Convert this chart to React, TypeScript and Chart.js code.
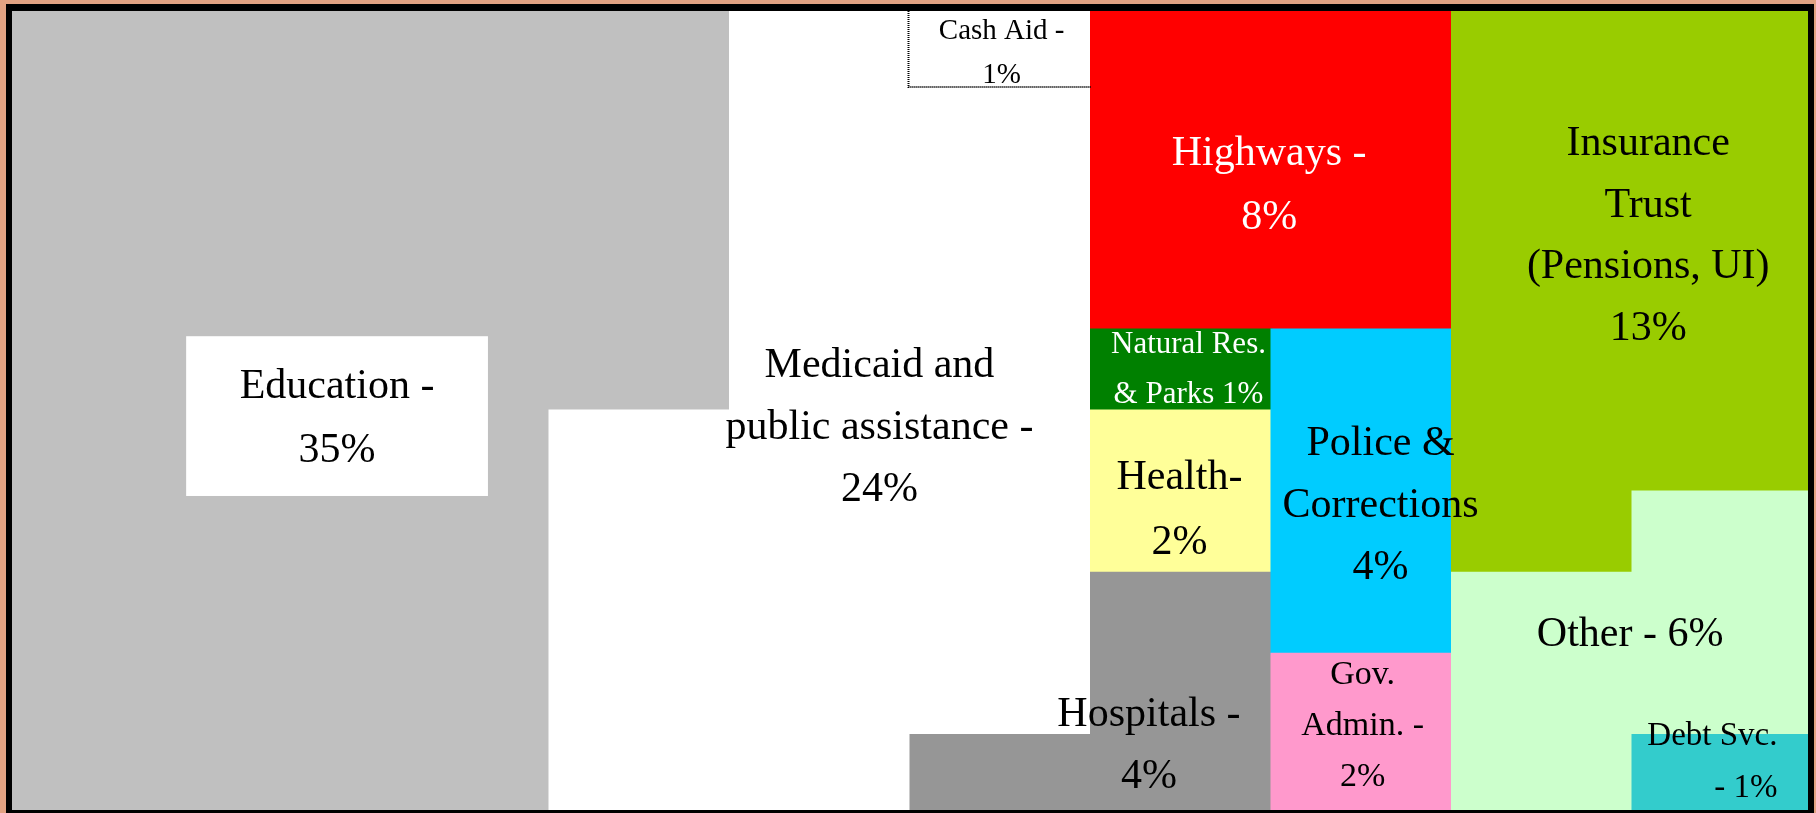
import React, { useEffect, useRef } from "react";
import { Chart, registerables } from "chart.js";

Chart.register(...registerables);

// Grid columns (10 x 10 grid, each cell = 1% of spending)
const columns = ["c1", "c2", "c3", "c4", "c5", "c6", "c7", "c8", "c9", "c10"];

// Cells per column for each category (stacked bottom -> top)
const debtCells = [null, null, null, null, null, null, null, null, null, 1];
const otherCells = [null, null, null, null, null, null, null, null, 3, 3];
const insuranceCells = [null, null, null, null, null, null, null, null, 7, 6];
const govAdminCells = [null, null, null, null, null, null, null, 2, null, null];
const policeCells = [null, null, null, null, null, null, null, 4, null, null];
const hospitalCells = [null, null, null, null, null, 1, 3, null, null, null];
const healthCells = [null, null, null, null, null, null, 2, null, null, null];
const naturalResCells = [null, null, null, null, null, null, 1, null, null, null];
const highwayCells = [null, null, null, null, null, null, 4, 4, null, null];
const medicaidCells = [null, null, null, 5, 10, 8, null, null, null, null];
const educationCells = [10, 10, 10, 5, null, null, null, null, null, null];
const cashAidCells = [null, null, null, null, null, 1, null, null, null, null];

const seriesNames = [
  "Debt Svc.",
  "Other",
  "Insurance Trust",
  "Gov. Admin.",
  "Police & Corrections",
  "Hospitals",
  "Health",
  "Natural Res. & Parks",
  "Highways",
  "Medicaid and public assistance",
  "Education",
  "Cash Aid",
];
const seriesValues = [
  debtCells,
  otherCells,
  insuranceCells,
  govAdminCells,
  policeCells,
  hospitalCells,
  healthCells,
  naturalResCells,
  highwayCells,
  medicaidCells,
  educationCells,
  cashAidCells,
];
const seriesColors = [
  "#33CCCC",
  "#CCFFCC",
  "#99CC00",
  "#FF99CC",
  "#00CCFF",
  "#969696",
  "#FFFF99",
  "#008000",
  "#FF0000",
  "#FFFFFF",
  "#C0C0C0",
  "#FFFFFF",
];

// Label texts
const labelTexts = [
  ["Education -", "35%"],
  ["Medicaid and", "public assistance -", "24%"],
  ["Cash Aid -", "1%"],
  ["Highways -", "8%"],
  ["Insurance", "Trust", "(Pensions, UI)", "13%"],
  ["Natural Res.", "& Parks 1%"],
  ["Health-", "2%"],
  ["Police &", "Corrections", "4%"],
  ["Other - 6%"],
  ["Gov.", "Admin. -", "2%"],
  ["Hospitals -", "4%"],
  ["Debt Svc.", "- 1%"],
];

// Label placement (grid units: u from left, v from bottom), font size, line height, colour, alignment
const labelLayout = [
  { u: 1.823, v: 4.941, size: 42, lh: 64, color: "#000", align: "center" },
  { u: 4.828, v: 4.822, size: 42, lh: 62, color: "#000", align: "center" },
  { u: 5.505, v: 9.443, size: 29, lh: 44, color: "#000", align: "center" },
  { u: 6.987, v: 7.817, size: 42, lh: 64, color: "#FFF", align: "center" },
  { u: 9.087, v: 7.188, size: 42, lh: 61.5, color: "#000", align: "center" },
  { u: 6.54, v: 5.541, size: 31, lh: 50, color: "#FFF", align: "center" },
  { u: 6.49, v: 3.808, size: 42, lh: 65, color: "#000", align: "center" },
  { u: 7.604, v: 3.867, size: 42, lh: 62, color: "#000", align: "center" },
  { u: 8.987, v: 2.281, size: 42, lh: 62, color: "#000", align: "center" },
  { u: 7.505, v: 1.148, size: 34, lh: 51, color: "#000", align: "center" },
  { u: 6.321, v: 0.901, size: 42, lh: 62, color: "#000", align: "center" },
  { u: 9.803, v: 0.704, size: 33, lh: 52, color: "#000", align: "right" },
];

// White box behind the Education label (grid units)
const eduBox = { u0: 0.987, u1: 2.659, v0: 3.946, v1: 5.916 };

const FONT = '"Liberation Serif", "Times New Roman", serif';

const labelPlugin = {
  id: "cellLabels",
  afterDatasetsDraw(chart: any) {
    const { ctx } = chart;
    const xs = chart.scales.x;
    const ys = chart.scales.y;
    const px = (u: number) => xs.getPixelForValue(u - 0.5);
    const py = (v: number) => ys.getPixelForValue(v);

    ctx.save();
    // Cash Aid dotted outline
    const cashIdx = seriesNames.indexOf("Cash Aid");
    const meta = chart.getDatasetMeta(cashIdx);
    meta.data.forEach((bar: any, i: number) => {
      if (cashAidCells[i] == null) return;
      const p = bar.getProps(["x", "y", "base", "width"], true);
      const l = p.x - p.width / 2;
      const r = p.x + p.width / 2;
      ctx.strokeStyle = "#000";
      ctx.lineWidth = 2;
      ctx.setLineDash([1, 1]);
      ctx.beginPath();
      ctx.moveTo(l - 2, p.y);
      ctx.lineTo(l - 2, p.base + 1);
      ctx.lineTo(r, p.base + 1);
      ctx.stroke();
      ctx.setLineDash([]);
    });

    // Education white box
    ctx.fillStyle = "#FFFFFF";
    const bx0 = px(eduBox.u0);
    const bx1 = px(eduBox.u1);
    const by0 = py(eduBox.v1);
    const by1 = py(eduBox.v0);
    ctx.fillRect(bx0, by0, bx1 - bx0, by1 - by0);

    // Labels
    labelTexts.forEach((lines, i) => {
      const L = labelLayout[i];
      ctx.font = `${L.size}px ${FONT}`;
      ctx.fillStyle = L.color;
      ctx.textAlign = L.align;
      ctx.textBaseline = "middle";
      const cx = px(L.u);
      const cy = py(L.v) + 3.5;
      const n = lines.length;
      lines.forEach((t, k) => {
        const y = cy + (k - (n - 1) / 2) * L.lh;
        ctx.fillText(t, cx, y);
      });
    });
    ctx.restore();
  },
};

export default function App() {
  const ref = useRef<HTMLCanvasElement | null>(null);

  useEffect(() => {
    if (!ref.current) return;
    const chart = new Chart(ref.current, {
      type: "bar",
      data: {
        labels: columns,
        datasets: seriesNames.map((name, i) => ({
          label: name,
          data: seriesValues[i] as any,
          backgroundColor: seriesColors[i],
          borderWidth: 0,
          inflateAmount: 1,
          barPercentage: 1,
          categoryPercentage: 1,
        })),
      },
      options: {
        animation: false,
        responsive: false,
        maintainAspectRatio: false,
        layout: { padding: 0 },
        plugins: {
          legend: { display: false },
          tooltip: { enabled: false },
        },
        scales: {
          x: { stacked: true, display: false },
          y: { stacked: true, display: false, min: 0, max: 10 },
        },
      },
      plugins: [labelPlugin],
    });
    return () => chart.destroy();
  }, []);

  return (
    <div
      style={{
        position: "absolute",
        left: 0,
        top: 0,
        width: 1816,
        height: 813,
        background: "#E2A282",
        overflow: "hidden",
      }}
    >
      <canvas
        ref={ref}
        width={1805}
        height={811}
        style={{ position: "absolute", left: 8, top: 5, width: 1805, height: 811, display: "block" }}
      />
      <div
        style={{
          position: "absolute",
          left: 6,
          top: 4,
          width: 1808,
          height: 813,
          boxSizing: "border-box",
          borderStyle: "solid",
          borderColor: "#000000",
          borderLeftWidth: 6,
          borderTopWidth: 7,
          borderRightWidth: 6,
          borderBottomWidth: 7,
          pointerEvents: "none",
        }}
      />
    </div>
  );
}
